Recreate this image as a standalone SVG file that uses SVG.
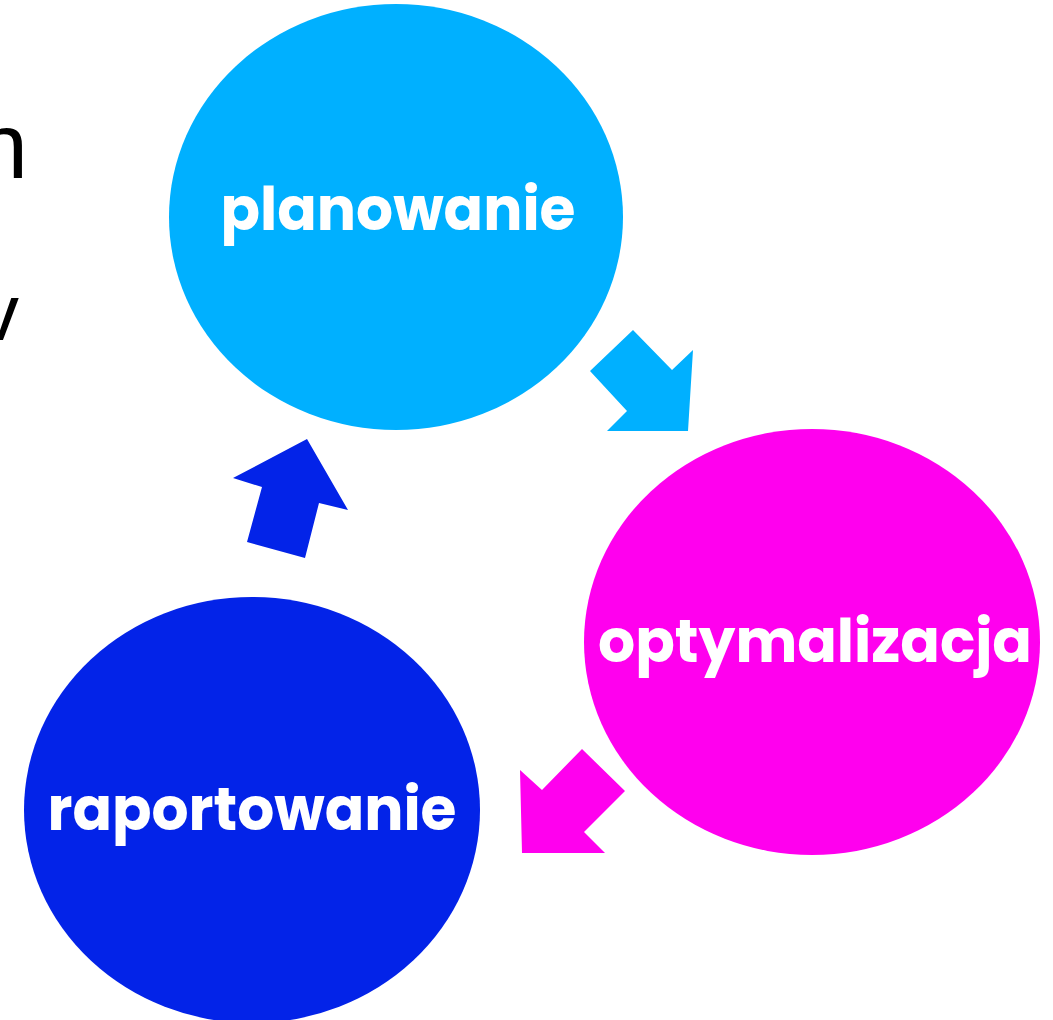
<svg xmlns="http://www.w3.org/2000/svg" width="1053" height="1020" viewBox="0 0 1053 1020">
<style>
.lbl{font-family:"Poppins","Open Sans","Liberation Sans",sans-serif;font-weight:bold;font-size:60px;fill:#ffffff;text-anchor:middle}
.frag{font-family:"Liberation Sans",Arial,sans-serif;fill:#000000;text-anchor:end}
</style>
<rect width="1053" height="1020" fill="#ffffff"/>
<text class="frag" x="28" y="178" font-size="92">n</text>
<text class="frag" x="19" y="340" font-size="80">v</text>
<g id="connectors">
<polygon points="633,330 672,370 693,350 688,431 607,431 627,411 590,371" fill="#00b0ff"/>
<polygon points="582,749 625,791 584,832 605,853 522,853 520,770 542,790" fill="#ff00ee"/>
<polygon points="307,439 348,510 319,503 305,558 247,542 262,487 233,478" fill="#0323e8"/>
</g>
<g id="planowanie">
<ellipse cx="396" cy="217" rx="227" ry="213" fill="#00b0ff"/>
<text class="lbl" x="398" y="230" textLength="355" lengthAdjust="spacingAndGlyphs">planowanie</text>
</g>
<g id="optymalizacja">
<ellipse cx="812" cy="642" rx="228" ry="213" fill="#ff00ee"/>
<text class="lbl" x="815" y="662" textLength="434" lengthAdjust="spacingAndGlyphs">optymalizacja</text>
</g>
<g id="raportowanie">
<ellipse cx="252" cy="810" rx="228" ry="213" fill="#0323e8"/>
<text class="lbl" x="252" y="830" textLength="409" lengthAdjust="spacingAndGlyphs">raportowanie</text>
</g>
</svg>
